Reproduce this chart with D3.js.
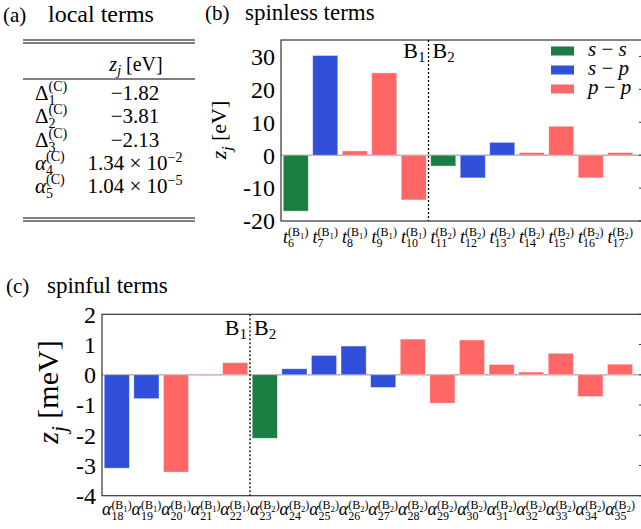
<!DOCTYPE html>
<html>
<head>
<meta charset="utf-8">
<script src="https://cdn.jsdelivr.net/npm/d3@7"></script>
<style>
  body { margin: 0; background: #fff; }
  svg text { fill: #000; }
</style>
</head>
<body>
<div id="chart"></div>
<script>
const COLORS = { ss: "#1b7d3f", sp: "#3150d9", pp: "#ff6666" };

// (a) local terms table
const localBases   = ["Δ", "Δ", "Δ", "α", "α"];
const localIndex   = ["1", "2", "3", "4", "5"];
const localMant    = ["−1.82", "−3.81", "−2.13", "1.34 × 10", "1.04 × 10"];
const localExp     = [null, null, null, "−2", "−5"];

// (b) spinless terms
const spinlessIdx    = [6, 7, 8, 9, 10, 11, 12, 13, 14, 15, 16, 17];
const spinlessBond   = ["1", "1", "1", "1", "1", "2", "2", "2", "2", "2", "2", "2"];
const spinlessValues = [-17.0, 30.3, 1.3, 25.0, -13.6, -3.3, -6.9, 3.9, 0.8, 8.8, -6.9, 0.8];
const spinlessTypes  = ["ss", "sp", "pp", "pp", "pp", "ss", "sp", "sp", "pp", "pp", "pp", "pp"];
const spinlessTicks  = [-20, -10, 0, 10, 20, 30];

// (c) spinful terms
const spinfulIdx    = [18, 19, 20, 21, 22, 23, 24, 25, 26, 27, 28, 29, 30, 31, 32, 33, 34, 35];
const spinfulBond   = ["1", "1", "1", "1", "1", "2", "2", "2", "2", "2", "2", "2", "2", "2", "2", "2", "2", "2"];
const spinfulValues = [-3.09, -0.79, -3.22, -0.03, 0.40, -2.10, 0.20, 0.64, 0.95, -0.42,
                       1.18, -0.94, 1.15, 0.34, 0.09, 0.71, -0.72, 0.35];
const spinfulTypes  = ["sp", "sp", "pp", "pp", "pp", "ss", "sp", "sp", "sp", "sp",
                       "pp", "pp", "pp", "pp", "pp", "pp", "pp", "pp"];
const spinfulTicks  = [-4, -3, -2, -1, 0, 1, 2];

const legendKeys   = ["ss", "sp", "pp"];
const legendLabels = [["s", "s"], ["s", "p"], ["p", "p"]];

const W = 641, H = 529;
const FONT = "'Liberation Serif', 'Times New Roman', serif";

const svg = d3.select("#chart").append("svg")
  .attr("width", W).attr("height", H)
  .attr("font-family", FONT)
  .style("background", "#fff");

// one <text>: base glyph, superscript parts, then subscript stacked under the superscript
// sup parts: [text, sizeFactor, dy]
function scriptLabel(g, base, supParts, sub, o) {
  const t = g.append("text").attr("font-size", o.size);
  const b = t.append("tspan")
    .attr("font-style", o.upright ? "normal" : "italic")
    .text(base);
  let net = 0;
  supParts.forEach(([txt, f, dy], i) => {
    const d = (i === 0 ? o.supDy : 0) + dy;
    net += d;
    t.append("tspan")
      .attr("font-size", o.script * f)
      .attr("dy", d)
      .text(txt);
  });
  const wb = b.node().getComputedTextLength();
  const wsup = t.node().getComputedTextLength() - wb;
  const s = t.append("tspan")
    .attr("font-size", o.script)
    .attr("dx", -wsup)
    .attr("dy", o.subDy - net)
    .text(sub);
  const wsub = s.node().getComputedTextLength();
  const total = wb + Math.max(wsup, wsub);
  t.attr("x", o.anchor === "start" ? 0 : -total / 2);
}

function bondSup(n) {
  return [["(B", 1, 0], [n, 0.72, 3], [")", 1, -3]];
}

// ---------- (a) table ----------
const ga = svg.append("g");
ga.append("text").attr("x", 3).attr("y", 22).attr("font-size", 21).text("(a)");
ga.append("text").attr("x", 48).attr("y", 22).attr("font-size", 24).text("local terms");

const TX0 = 23, TX1 = 195;
[40, 43, 79, 218, 221].forEach(y => {
  ga.append("line")
    .attr("x1", TX0).attr("x2", TX1)
    .attr("y1", y).attr("y2", y)
    .attr("stroke", "#000").attr("stroke-width", 1);
});

const hdr = ga.append("text")
  .attr("x", 136).attr("y", 71)
  .attr("font-size", 20)
  .attr("text-anchor", "middle");
hdr.append("tspan").attr("font-style", "italic").text("z");
hdr.append("tspan").attr("font-style", "italic").attr("font-size", 14).attr("dy", 4).text("j");
hdr.append("tspan").attr("dy", -4).text(" [eV]");

const rowY = d3.scalePoint().domain(d3.range(localBases.length)).range([100, 193]);

localBases.forEach((b, i) => {
  const g = ga.append("g").attr("transform", `translate(35,${rowY(i)})`);
  scriptLabel(g, b, [["(C)", 1, 0]], localIndex[i], {
    size: 21, script: 14, supDy: -9, subDy: 5, anchor: "start", upright: b === "Δ"
  });

  const v = ga.append("text")
    .attr("x", 135).attr("y", rowY(i))
    .attr("font-size", 21)
    .attr("text-anchor", "middle");
  v.append("tspan").text(localMant[i]);
  if (localExp[i]) {
    v.append("tspan").attr("font-size", 14).attr("dy", -8).text(localExp[i]);
  }
});

// ---------- bar panel helper ----------
function barPanel(cfg) {
  const g = svg.append("g");
  const n = cfg.idx.length;

  const x = d3.scaleBand()
    .domain(cfg.idx)
    .range([cfg.left, cfg.left + n * cfg.step])
    .paddingInner(0.15)
    .paddingOuter(0.075);

  const y = d3.scaleLinear()
    .domain(cfg.domain)
    .range([cfg.bottom, cfg.top]);

  g.append("line")
    .attr("x1", cfg.left).attr("x2", cfg.right)
    .attr("y1", y(0)).attr("y2", y(0))
    .attr("stroke", "#b0b0b0").attr("stroke-width", 1.5);

  g.append("g").selectAll("rect")
    .data(cfg.values)
    .join("rect")
    .attr("x", (d, i) => x(cfg.idx[i]))
    .attr("width", x.bandwidth())
    .attr("y", d => y(Math.max(0, d)))
    .attr("height", d => Math.abs(y(d) - y(0)))
    .attr("fill", (d, i) => COLORS[cfg.types[i]])
    .attr("stroke", "#fff")
    .attr("stroke-opacity", 0.5)
    .attr("stroke-width", 0.8);

  // frame
  g.append("rect")
    .attr("x", cfg.left).attr("y", cfg.top)
    .attr("width", cfg.right - cfg.left)
    .attr("height", cfg.bottom - cfg.top)
    .attr("fill", "none")
    .attr("stroke", "#333")
    .attr("stroke-width", 1.2);

  // right-side inward ticks
  cfg.ticks.forEach(t => {
    g.append("line")
      .attr("x1", cfg.right - 4).attr("x2", cfg.right)
      .attr("y1", y(t)).attr("y2", y(t))
      .attr("stroke", "#333").attr("stroke-width", 1);
  });

  // y tick labels
  g.append("g").selectAll("text")
    .data(cfg.ticks)
    .join("text")
    .attr("x", cfg.left - 6)
    .attr("y", d => y(d))
    .attr("dy", "0.35em")
    .attr("text-anchor", "end")
    .attr("font-size", 24)
    .text(d => d);

  // y axis label
  const yl = g.append("text")
    .attr("transform", `translate(${cfg.ylabelX},${cfg.ylabelY}) rotate(-90)`)
    .attr("font-size", cfg.ylabelSize)
    .attr("text-anchor", "middle");
  yl.append("tspan").attr("font-style", "italic").text("z");
  yl.append("tspan").attr("font-style", "italic")
    .attr("font-size", cfg.ylabelSize * 0.7).attr("dy", cfg.ylabelSize * 0.25).text("j");
  yl.append("tspan").attr("dy", -cfg.ylabelSize * 0.25).text("  " + cfg.unit);

  // B1 | B2 divider
  const xd = (x(cfg.idx[4]) + x.bandwidth() + x(cfg.idx[5])) / 2;
  g.append("line")
    .attr("x1", xd).attr("x2", xd)
    .attr("y1", cfg.top).attr("y2", cfg.bottom)
    .attr("stroke", "#000").attr("stroke-width", 1.3)
    .attr("stroke-dasharray", "2,2");
  [["1", "end", -3], ["2", "start", 4]].forEach(([n, anchor, off]) => {
    const t = g.append("text")
      .attr("x", xd + off).attr("y", cfg.top + cfg.bLabelDy)
      .attr("font-size", 22)
      .attr("text-anchor", anchor);
    t.append("tspan").text("B");
    t.append("tspan").attr("font-size", 15).attr("dy", 4).text(n);
  });

  // x tick labels
  cfg.idx.forEach((k, i) => {
    const tg = g.append("g")
      .attr("transform", `translate(${x(k) + x.bandwidth() / 2},${cfg.xlabelY})`);
    scriptLabel(tg, cfg.base, bondSup(cfg.bond[i]), String(k), {
      size: cfg.baseSize, script: 12, supDy: cfg.supDy, subDy: cfg.subDy
    });
  });

  return { g, x, y };
}

// ---------- (b) ----------
svg.append("text").attr("x", 205).attr("y", 20).attr("font-size", 21).text("(b)");
svg.append("text").attr("x", 245).attr("y", 20).attr("font-size", 23).text("spinless terms");

const pb = barPanel({
  idx: spinlessIdx, bond: spinlessBond, values: spinlessValues, types: spinlessTypes,
  ticks: spinlessTicks, domain: [-20, 35],
  left: 281, right: 643, top: 40, bottom: 221, step: 29.5,
  ylabelX: 226, ylabelY: 130, ylabelSize: 22, unit: "[eV]",
  bLabelDy: 18, xlabelY: 243, base: "t", baseSize: 18, supDy: -7, subDy: 4
});

// legend
const lg = pb.g.append("g");
legendKeys.forEach((k, i) => {
  const yy = 46.5 + i * 19;
  lg.append("rect")
    .attr("x", 551).attr("y", yy)
    .attr("width", 23).attr("height", 9)
    .attr("fill", COLORS[k]);
  const t = lg.append("text")
    .attr("x", 588).attr("y", yy + 9.5)
    .attr("font-size", 21);
  t.append("tspan").attr("font-style", "italic").text(legendLabels[i][0]);
  t.append("tspan").text(" − ");
  t.append("tspan").attr("font-style", "italic").text(legendLabels[i][1]);
});

// ---------- (c) ----------
svg.append("text").attr("x", 6).attr("y", 293).attr("font-size", 21).text("(c)");
svg.append("text").attr("x", 47).attr("y", 293).attr("font-size", 23).text("spinful terms");

barPanel({
  idx: spinfulIdx, bond: spinfulBond, values: spinfulValues, types: spinfulTypes,
  ticks: spinfulTicks, domain: [-4, 2],
  left: 102, right: 643, top: 314.3, bottom: 495.7, step: 29.6,
  ylabelX: 58, ylabelY: 392, ylabelSize: 30, unit: "[meV]",
  bLabelDy: 21, xlabelY: 515, base: "α", baseSize: 18, supDy: -6, subDy: 5
});
</script>
</body>
</html>
